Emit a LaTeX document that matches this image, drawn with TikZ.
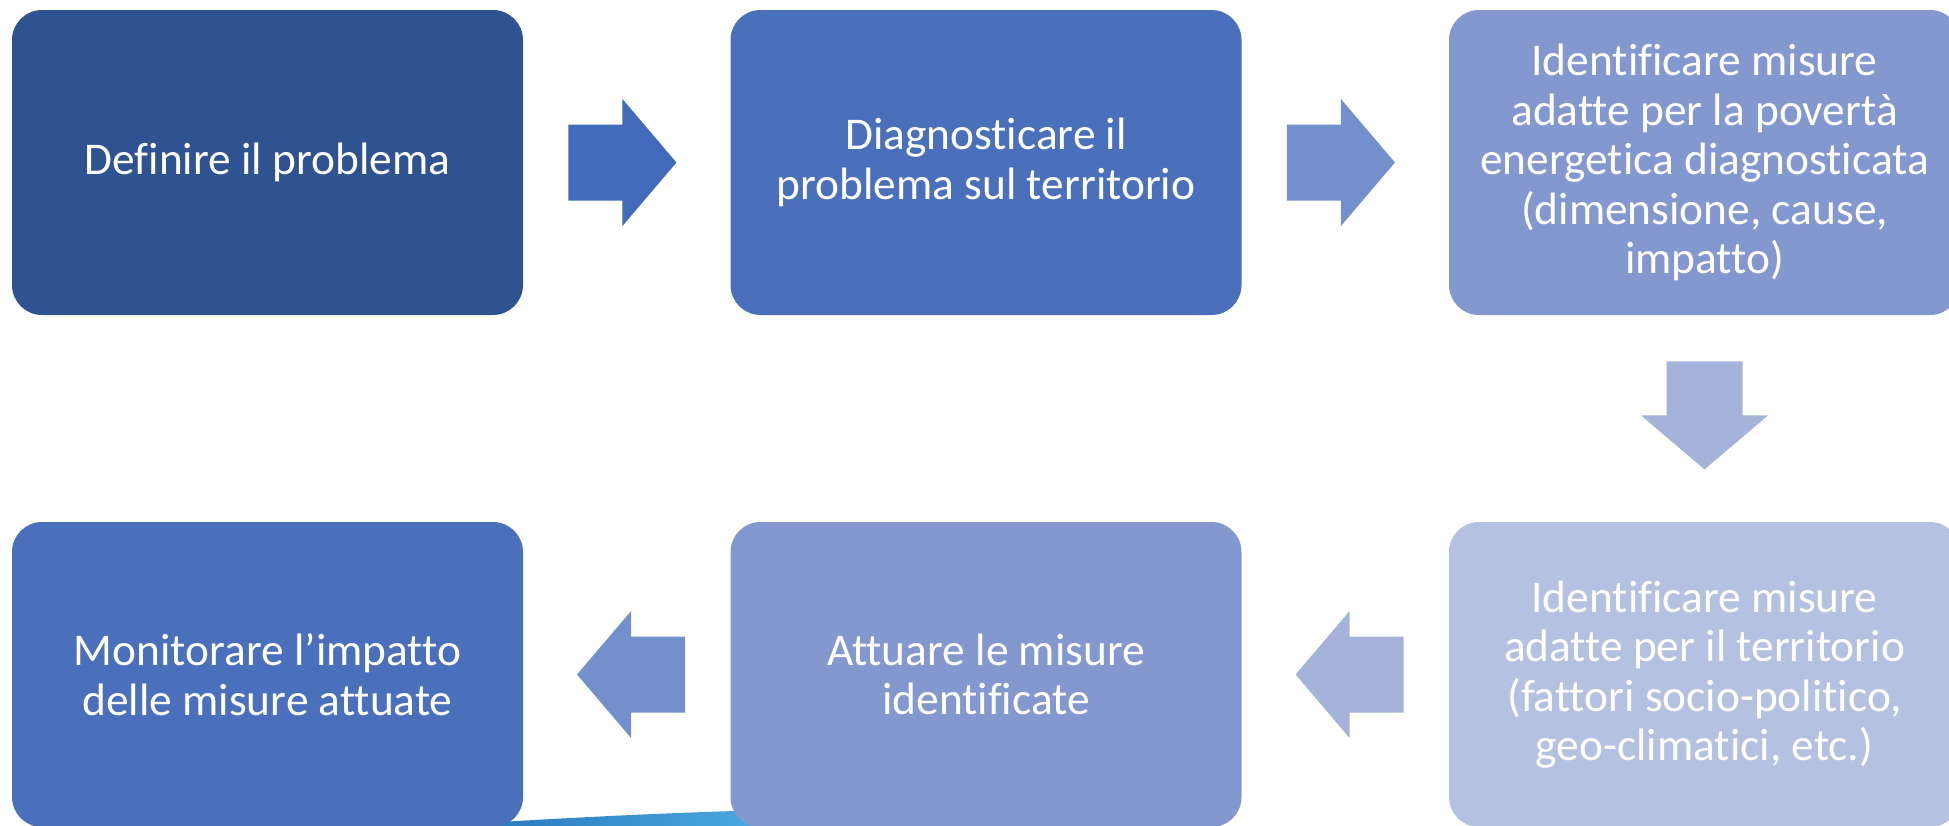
\documentclass[tikz,border=0pt]{standalone}
\usepackage{fontspec}
\setmainfont{Carlito}[Ligatures={NoCommon}]
\usetikzlibrary{calc}
\definecolor{boxdark}{HTML}{2F5290}
\definecolor{boxmid}{HTML}{4A70BB}
\definecolor{boxsoft}{HTML}{8398CF}
\definecolor{boxpale}{HTML}{B5C1E1}
\definecolor{arrmid}{HTML}{416BBA}
\definecolor{arrsoft}{HTML}{7490CC}
\definecolor{arrpale}{HTML}{A5B2DA}
\definecolor{waveleft}{HTML}{2A7CC0}
\definecolor{waveright}{HTML}{4DAAE0}
\tikzset{
  stepbox/.style={rectangle, rounded corners=15pt, minimum width=255.5pt,
    minimum height=152.5pt, inner sep=0pt, text=white, align=center,
    font=\fontsize{22.7}{24.7}\selectfont}
}
\newcommand\blockarrow[3]{%
  \fill[#3, shift={(#1)}, rotate=#2] (-54,-38) -- (0,-38) -- (0,-63.5) -- (54,0)
    -- (0,63.5) -- (0,38) -- (-54,38) -- cycle;}
\begin{document}
\begin{tikzpicture}[x=0.5pt,y=-0.5pt]
\useasboundingbox (0,0) rectangle (1949,825);
\clip (0,0) rectangle (1949,825);
\shade[left color=waveleft, right color=waveright]
  (500,830) -- (500,822) .. controls (600,816) and (690,812) .. (770,810)
  -- (770,830) -- cycle;
\node[stepbox, fill=boxdark] (b1) at (267.5,162.5) {Definire il problema};
\node[stepbox, fill=boxmid] (b2) at (986,162.5) {Diagnosticare il\\problema sul territorio};
\node[stepbox, fill=boxsoft] (b3) at (1704.5,162.5) {Identificare misure\\adatte per la povertà\\energetica diagnosticata\\(dimensione, cause,\\impatto)};
\node[stepbox, fill=boxpale] (b4) at (1704.5,674.5) {Identificare misure\\adatte per il territorio\\(fattori socio-politico,\\geo-climatici, etc.)};
\node[stepbox, fill=boxsoft] (b5) at (986,674.5) {Attuare le misure\\identificate};
\node[stepbox, fill=boxmid] (b6) at (267.5,674.5) {Monitorare l’impatto\\delle misure attuate};
\foreach \from/\to/\rot/\col in {b1/b2/0/arrmid,b2/b3/0/arrsoft,b3/b4/270/arrpale,b4/b5/180/arrpale,b5/b6/180/arrsoft}{
  \coordinate (\from\to) at ($(\from)!0.494!(\to)$);
  \blockarrow{\from\to}{\rot}{\col}
}
\end{tikzpicture}
\end{document}
